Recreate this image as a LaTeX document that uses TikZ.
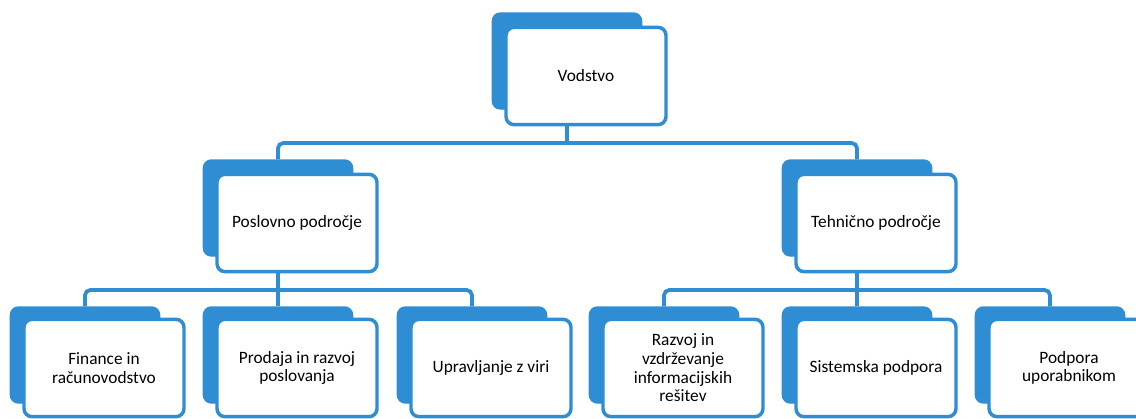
\documentclass[tikz,border=0pt]{standalone}
\usepackage{fontspec}
\setmainfont{Carlito}
\usepackage{xcolor}
\usepackage{tikz}
\usetikzlibrary{positioning,calc}
\definecolor{orgblue}{RGB}{46,141,211}

\begin{document}
\begin{tikzpicture}[x=0.75pt, y=-0.75pt, font=\fontsize{13}{14}\selectfont,
  back/.style={draw=orgblue, fill=orgblue, rounded corners=6pt, line width=1pt, minimum width=112pt, minimum height=72pt, inner sep=0pt},
  front/.style={draw=orgblue, fill=white, rounded corners=6pt, line width=2.6pt, align=center, minimum width=120pt, minimum height=73pt, inner sep=2pt},
  link/.style={draw=orgblue, line width=2.8pt, rounded corners=4pt}]
\useasboundingbox (0,0) rectangle (1136,418);
\coordinate (bar0) at (567,143);
\coordinate (bar1) at (278,290);
\coordinate (bar2) at (857,290);
% zadnje (modre) plasti
\node[back] (vodB) at (567,61)  {};
\node[back] (posB) at (278,208) {};
\node[back] (tehB) at (857,208) {};
\node[back] (finB) at (85,355)   {};
\node[back] (proB) at (278,355)  {};
\node[back] (uprB) at (472,355)  {};
\node[back] (razB) at (664,355)  {};
\node[back] (sisB) at (857,355)  {};
\node[back] (podB) at (1050,355) {};
% povezave
\draw[link] (vodB.center) -- (bar0);
\draw[link] (posB.north) |- (bar0) -| (tehB.north);
\draw[link] (posB.center) -- (bar1);
\draw[link] (finB.north) |- (bar1) -| (uprB.north);
\draw[link] (proB.north) -- (bar1);
\draw[link] (tehB.center) -- (bar2);
\draw[link] (razB.north) |- (bar2) -| (podB.north);
\draw[link] (sisB.north) -- (bar2);
% sprednje plasti
\node[front] (vod) at (586,76)   {Vodstvo};
\node[front] (pos) at (297,223)  {Poslovno področje};
\node[front] (teh) at (876,223)  {Tehnično področje};
\node[front] (fin) at (104,368)  {Finance in\\ računovodstvo};
\node[front] (pro) at (297,368)  {Prodaja in razvoj\\ poslovanja};
\node[front] (upr) at (491,368)  {Upravljanje z viri};
\node[front] (raz) at (683,368)  {Razvoj in\\ vzdrževanje\\ informacijskih\\ rešitev};
\node[front] (sis) at (876,368)  {Sistemska podpora};
\node[front] (pod) at (1069,368) {Podpora\\ uporabnikom};
\end{tikzpicture}
\end{document}
